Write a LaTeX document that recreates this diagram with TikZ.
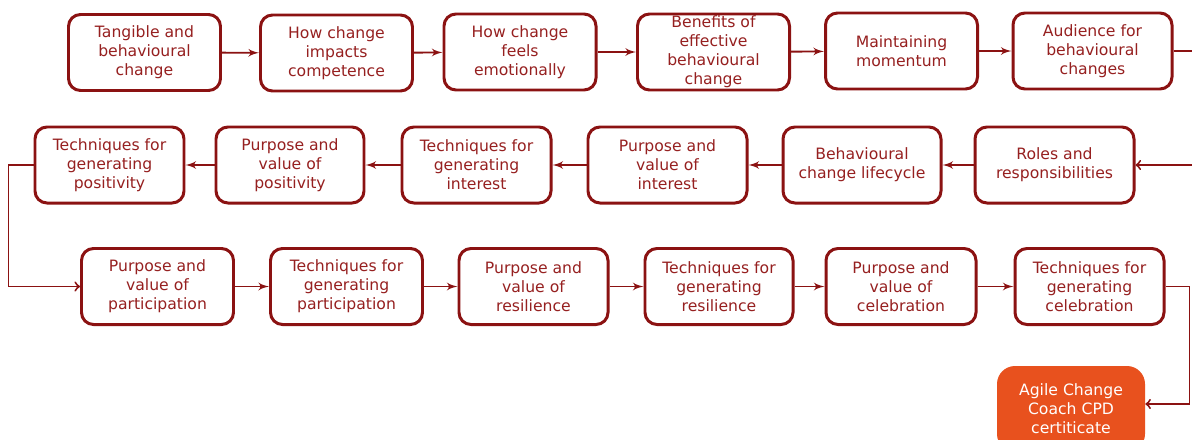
\documentclass[tikz,border=0pt]{standalone}
\usepackage{fontspec}
\setmainfont{DejaVu Sans}
\usepackage{tikz}
\usetikzlibrary{arrows}

\definecolor{boxred}{RGB}{139,18,18}
\definecolor{textred}{RGB}{150,32,32}
\definecolor{certorange}{RGB}{232,81,30}

\tikzset{
  stepbox/.style={draw=boxred, line width=1.7pt, rounded corners=2.4mm, fill=white,
    minimum width=30.4mm, minimum height=15.2mm, align=center, text=textred,
    inner sep=1pt, font=\fontsize{8.9}{10.8}\selectfont},
  certbox/.style={fill=certorange, rounded corners=3.6mm, minimum width=29.6mm,
    minimum height=17.2mm, align=center, text=white, inner sep=1pt,
    font=\fontsize{8.9}{10.8}\selectfont},
  flow/.style={draw=boxred, line width=1.1pt, ->, >=latex'},
  loopback/.style={draw=boxred, line width=1.1pt, ->, >=to}
}

\begin{document}
\begin{tikzpicture} [x=.2mm, y=-.2mm]
\useasboundingbox (0,0) rectangle (1192,439);

% top row
\node[stepbox] (tangible) at (144.5,52.5) {Tangible and\\behavioural\\change};
\node[stepbox] (impacts) at (336.5,53) {How change\\impacts\\competence};
\node[stepbox] (feels) at (520,52) {How change\\feels\\emotionally};
\node[stepbox] (benefits) at (713.5,52) {Benefits of\\effective\\behavioural\\change};
\node[stepbox] (momentum) at (901.5,51) {Maintaining\\momentum};
\node[stepbox, minimum width=31.8mm] (audience) at (1092.5,51) {Audience for\\behavioural\\changes};

% middle row, right to left
\node[stepbox, minimum width=31.8mm] (roles) at (1054.5,165) {Roles and\\responsibilities};
\node[stepbox, minimum width=31.6mm] (lifecycle) at (862,165) {Behavioural\\change lifecycle};
\node[stepbox, minimum width=31.8mm] (pinterest) at (667.5,165) {Purpose and\\value of\\interest};
\node[stepbox, minimum width=29.8mm] (tinterest) at (476.5,165) {Techniques for\\generating\\interest};
\node[stepbox, minimum width=29.6mm] (ppositivity) at (290,165) {Purpose and\\value of\\positivity};
\node[stepbox, minimum width=29.8mm] (tpositivity) at (109.5,165) {Techniques for\\generating\\positivity};

% bottom row
\node[stepbox] (pparticipation) at (157.5,286.5) {Purpose and\\value of\\participation};
\node[stepbox] (tparticipation) at (346.5,286.5) {Techniques for\\generating\\participation};
\node[stepbox, minimum width=29.8mm] (presilience) at (533.5,286.5) {Purpose and\\value of\\resilience};
\node[stepbox, minimum width=29.6mm] (tresilience) at (719,286.5) {Techniques for\\generating\\resilience};
\node[stepbox, minimum width=30mm] (pcelebration) at (901,286.5) {Purpose and\\value of\\celebration};
\node[stepbox, minimum width=29.8mm] (tcelebration) at (1089.5,286.5) {Techniques for\\generating\\celebration};

\node[certbox] (cert) at (1071,409) {Agile Change\\Coach CPD\\certiticate};

\coordinate (outright) at (1192,51);
\coordinate (inright) at (1192,165);

\foreach \a/\b in {tangible/impacts, impacts/feels, feels/benefits, benefits/momentum,
    momentum/audience, roles/lifecycle, lifecycle/pinterest, pinterest/tinterest,
    tinterest/ppositivity, ppositivity/tpositivity, pparticipation/tparticipation,
    tparticipation/presilience, presilience/tresilience, tresilience/pcelebration,
    pcelebration/tcelebration} {
  \draw[flow] (\a) -- (\b);
}

\draw[draw=boxred, line width=1.1pt] (audience.east) -- (outright);
\draw[loopback] (inright) -- (roles.east);
\draw[loopback] (tpositivity.west) -- ++(-25,0) |- (pparticipation.west);
\draw[loopback] (tcelebration.east) -- ++(24,0) |- ([yshift=1.0mm]cert.east);
\end{tikzpicture}
\end{document}
